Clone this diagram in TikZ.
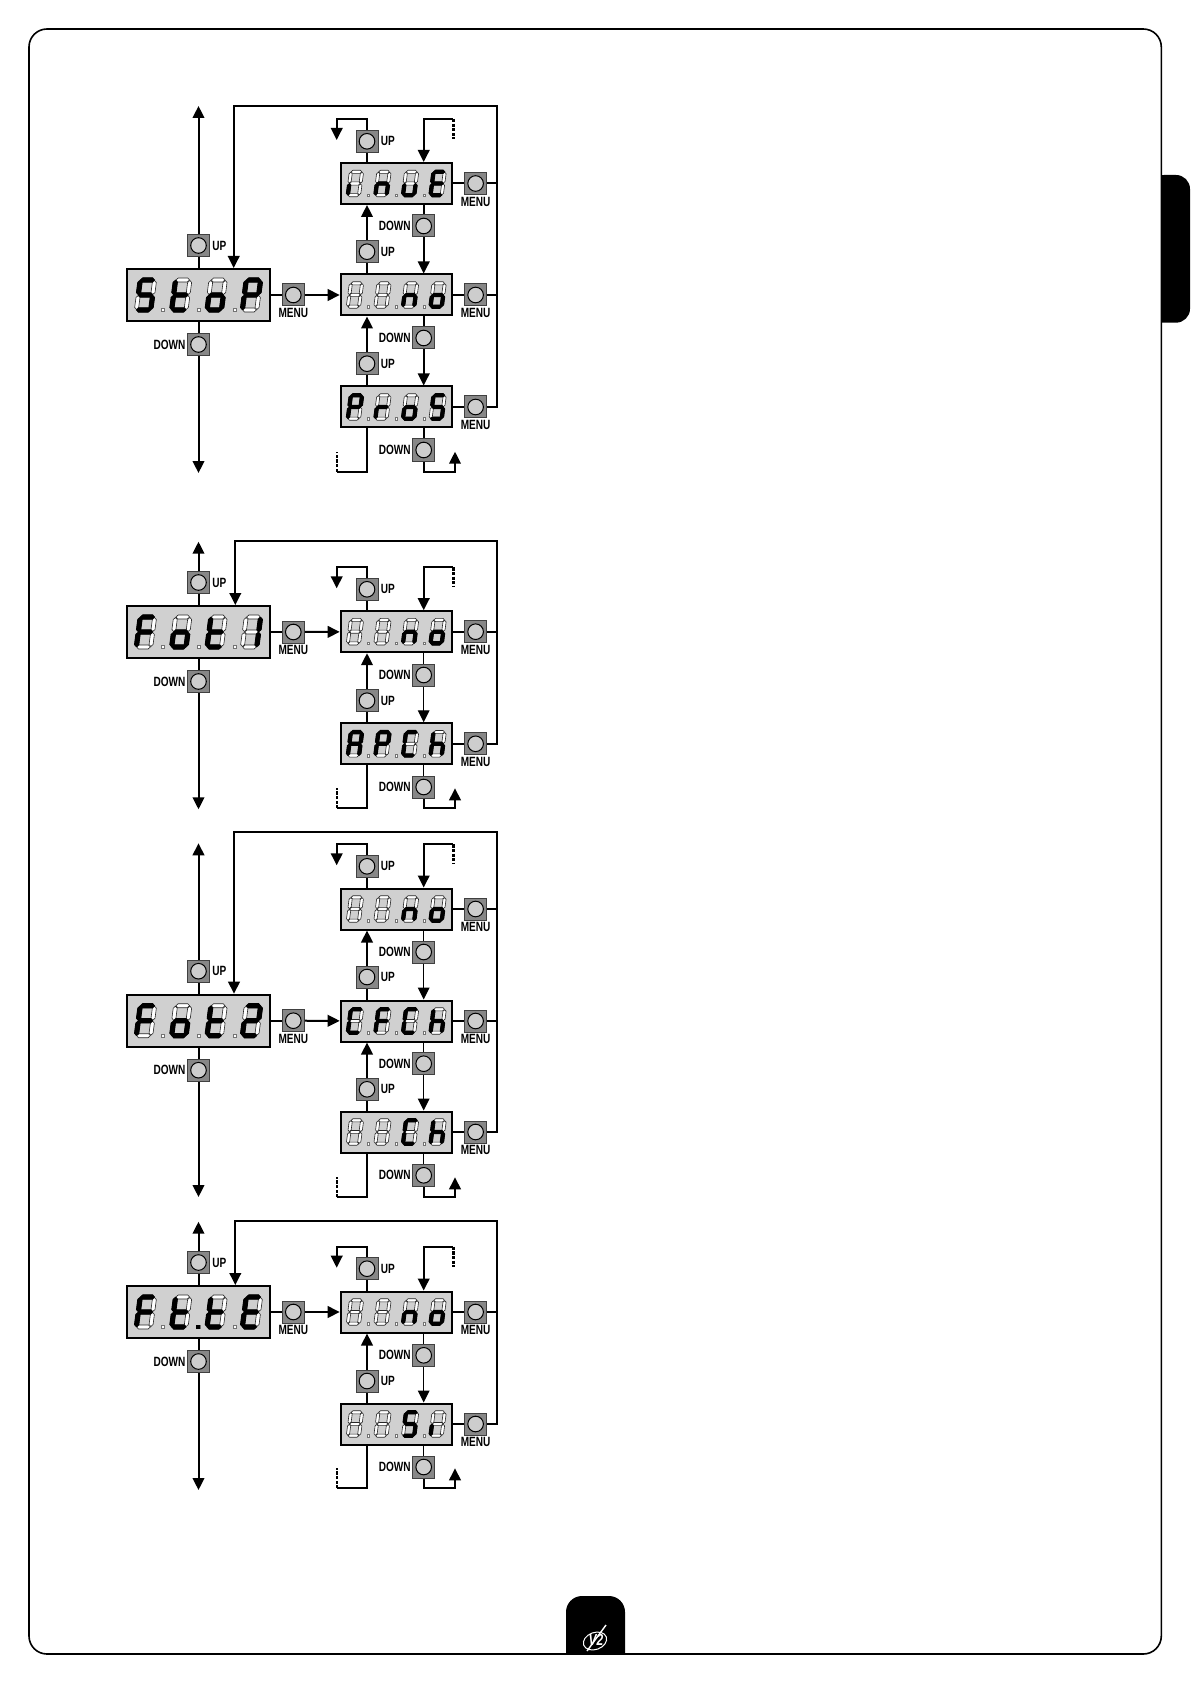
\documentclass[tikz,border=0pt]{standalone}
\usepackage{fontspec}
\newfontfamily\btnfont[FakeStretch=0.75]{Liberation Sans}
\usepackage{xcolor}
\usepackage{tikz}
\usetikzlibrary{arrows.meta,positioning}

\definecolor{lcdgray}{RGB}{208,208,208}
\definecolor{btngray}{RGB}{135,135,135}
\definecolor{capgray}{RGB}{205,205,205}

\tikzset{
  lcdbig/.style={draw, fill=lcdgray, line width=1pt, inner sep=0pt, minimum width=71.5pt, minimum height=26pt},
  lcdsmall/.style={draw, fill=lcdgray, line width=1pt, inner sep=0pt, minimum width=55.6pt, minimum height=20.5pt},
  btn/.style={draw=black!75, fill=btngray, line width=.5pt, inner sep=0pt, minimum size=11pt,
    path picture={\draw[black, fill=capgray, line width=.5pt] (path picture bounding box.center) circle (3.9pt);}},
  btnlabel/.style={inner sep=0pt, font=\btnfont\fontsize{6.7}{7}\selectfont\bfseries},
  segon/.style={fill=black, draw=black, line width=.6pt},
  segoff/.style={fill=white, draw=black!85, line width=.3pt},
  dotoff/.style={fill=white, draw=black!55, line width=.3pt},
  wire/.style={line width=1pt},
  downline/.style={line width=1pt},
  stub/.style={line width=1.2pt, dash pattern=on 1.6pt off .7pt}
}

% one segment of the display
\newcommand{\hseg}[2]{\filldraw[#1] (-6.8,#2) -- ++(2,-2) -- ++(9.6,0) -- ++(2,2) -- ++(-2,2) -- ++(-9.6,0) -- cycle;}
\newcommand{\vseg}[3]{\filldraw[#1] (#2,#3-7) -- ++(2,2) -- ++(0,10) -- ++(-2,2) -- ++(-2,-2) -- ++(0,-10) -- cycle;}
\def\sega#1{\hseg{#1}{-15}}
\def\segb#1{\vseg{#1}{7.2}{-7.5}}
\def\segc#1{\vseg{#1}{7.2}{7.5}}
\def\segd#1{\hseg{#1}{15}}
\def\sege#1{\vseg{#1}{-7.2}{7.5}}
\def\segf#1{\vseg{#1}{-7.2}{-7.5}}
\def\segg#1{\hseg{#1}{0}}
\def\segx#1{}

% characters
\def\lcdB{x}
\def\lcdS{a,f,g,c,d}
\def\lcdt{f,g,e,d}
\def\lcdo{g,e,c,d}
\def\lcdP{a,b,f,g,e}
\def\lcdi{e}
\def\lcdn{e,g,c}
\def\lcdu{e,d,c}
\def\lcdE{a,f,g,e,d}
\def\lcdr{e,g}
\def\lcdF{a,f,g,e}
\def\lcdA{a,b,c,e,f,g}
\def\lcdC{a,f,e,d}
\def\lcdh{f,e,g,c}
\def\lcdone{b,c}
\def\lcdtwo{a,b,g,e,d}

\newcommand{\lcdchar}[2]{
  \begin{scope}[shift={(#1,0)}, xslant=.13]
    \foreach \s in {a,b,c,d,e,f,g} {\csname seg\s\endcsname{segoff}}
    \foreach \s in #2 {\csname seg\s\endcsname{segon}}
  \end{scope}}
\newcommand{\lcdword}[6]{
  \begin{scope}[shift={(#1.center)}, scale=#2]
    \lcdchar{-53}{#3}
    \lcdchar{-17.7}{#4}
    \lcdchar{17.7}{#5}
    \lcdchar{53}{#6}
    \foreach \d in {-36,0,36} {\filldraw[dotoff] (\d-1.6,13.5) rectangle ++(3.2,3.2);}
  \end{scope}}

% left display with its three buttons
\newcommand{\mainstep}[4]{
  \node[lcdbig] (#1) at (198.5,#2) {};
  \node[btn, above=5.5pt of #1] (#1up) {};
  \node[btnlabel, right=1pt of #1up] (#1uplbl) {UP};
  \node[btn, below=5.5pt of #1] (#1down) {};
  \node[btnlabel, left=.6pt of #1down] (#1downlbl) {DOWN};
  \node[btn, right=5.4pt of #1] (#1menu) {};
  \node[btnlabel, below=.9pt of #1menu] (#1menulbl) {MENU};
  \coordinate (#1top) at (#1.center |- 0,#3);
  \coordinate (#1bot) at (#1.center |- 0,#4);
  \draw[wire] (#1) -- (#1up);
  \draw[wire, ->] (#1up) -- (#1top);
  \draw[wire] (#1) -- (#1down);
  \draw[wire, ->] (#1down) -- (#1bot);
  \draw[wire] (#1) -- (#1menu);
}
% right display with its menu button
\newcommand{\substep}[2]{
  \node[lcdsmall] (#1) at (396.3,#2) {};
  \node[btn, right=5.6pt of #1] (#1menu) {};
  \node[btnlabel, below=.9pt of #1menu] (#1menulbl) {MENU};
  \draw[wire] (#1) -- (#1menu);
}
\newcommand{\uplink}[4]{
  \node[btn] (#1) at (367,#2) {};
  \node[btnlabel, right=1pt of #1] (#1lbl) {UP};
  \draw[wire] (#3.north -| #1) -- (#1);
  \draw[wire, ->] (#1) -- (#4.south -| #1);
}
\newcommand{\downlink}[4]{
  \node[btn] (#1) at (423.7,#2) {};
  \node[btnlabel, left=.6pt of #1] (#1lbl) {DOWN};
  \draw[downline] (#3.south -| #1) -- (#1);
  \draw[downline, ->] (#1) -- (#4.north -| #1);
}
\newcommand{\chaintop}[4]{
  \node[btn] (#1) at (367,#3) {};
  \node[btnlabel, right=1pt of #1] (#1lbl) {UP};
  \coordinate (#1l) at (336.7,#4);
  \coordinate (#1e) at (336.7,#4+21);
  \coordinate (#1r) at (453.3,#4);
  \coordinate (#1s) at (453.3,#4+20);
  \coordinate (#1m) at (423.7,#4);
  \draw[wire] (#2.north -| #1) -- (#1);
  \draw[wire, ->] (#1) |- (#1l) -- (#1e);
  \draw[wire, ->] (#1r) -- (#1m) -- (#2.north -| #1m);
  \draw[stub] (#1r) -- (#1s);
}
\newcommand{\chainbot}[4]{
  \node[btn] (#1) at (423.7,#3) {};
  \node[btnlabel, left=.6pt of #1] (#1lbl) {DOWN};
  \coordinate (#1c) at (367,#4);
  \coordinate (#1l) at (336.7,#4);
  \coordinate (#1s) at (336.7,#4-20);
  \coordinate (#1r) at (455,#4);
  \coordinate (#1e) at (455,#4-20);
  \draw[wire] (#2.south -| #1c) -- (#1c) -- (#1l);
  \draw[stub] (#1l) -- (#1s);
  \draw[downline] (#2.south -| #1) -- (#1);
  \draw[wire, ->] (#1) |- (#1r) -- (#1e);
}
% line from the menu buttons back to the left display
\newcommand{\backline}[4]{
  \coordinate (#1fbr) at (497.3,#3);
  \coordinate (#1fbl) at (#2,#3);
  \draw[wire, ->] (#4menu) -| (#1fbr) -- (#1fbl) -- (#1.north -| #1fbl);
}
\newcommand{\backbranch}[1]{\draw[wire] (#1menu) -- (#1menu -| 497.3,0);}

\begin{document}
\begin{tikzpicture}[x=.5pt, y=-.5pt, >={Triangle[length=6pt,width=5.8pt]}]
  \useasboundingbox (0,0) rectangle (1191,1684);

  % page frame and tabs
  \fill[black, rounded corners=7pt] (1150,175) -- (1190,175) -- (1190,322.7) -- (1150,322.7) -- cycle;
  \filldraw[fill=white, draw=black, line width=.8pt, rounded corners=9pt] (29,29) rectangle (1161.3,1654);
  \fill[black] (566,1654) [rounded corners=8pt] -- (566,1596) -- (625,1596) [sharp corners] -- (625,1654) -- cycle;
  \draw[white, line width=.5pt, rotate around={20:(595,1641)}] (595,1641) ellipse (12 and 8.5);
  \draw[white, line width=.7pt] (587,1651) -- (606,1625);
  \node[inner sep=0pt, text=white, font=\btnfont\fontsize{8}{8}\selectfont\bfseries\itshape] (logo) at (596,1640) {V2};

  % Stop
  \mainstep{stop}{295}{106}{473}
  \lcdword{stop}{1}{\lcdS}{\lcdt}{\lcdo}{\lcdP}
  \substep{inue}{183.5}
  \lcdword{inue}{.78}{\lcdi}{\lcdn}{\lcdu}{\lcdE}
  \substep{stopno}{295}
  \lcdword{stopno}{.78}{\lcdB}{\lcdB}{\lcdn}{\lcdo}
  \substep{pros}{407}
  \lcdword{pros}{.78}{\lcdP}{\lcdr}{\lcdo}{\lcdS}
  \draw[wire, ->] (stopmenu) -- (stopno);
  \chaintop{stoptop}{inue}{141.3}{119}
  \uplink{stopuu}{251.7}{stopno}{inue}
  \uplink{stopud}{363.7}{pros}{stopno}
  \downlink{stopdu}{226}{inue}{stopno}
  \downlink{stopdd}{338}{stopno}{pros}
  \chainbot{stopbot}{pros}{450}{471.7}
  \backline{stop}{233.7}{106}{pros}
  \backbranch{inue}
  \backbranch{stopno}

  \tikzset{downline/.style={line width=.65pt}}

  % Fot1
  \mainstep{fota}{632}{541.7}{809.3}
  \lcdword{fota}{1}{\lcdF}{\lcdo}{\lcdt}{\lcdone}
  \substep{fotano}{631.7}
  \lcdword{fotano}{.78}{\lcdB}{\lcdB}{\lcdn}{\lcdo}
  \substep{apch}{743.8}
  \lcdword{apch}{.78}{\lcdA}{\lcdP}{\lcdC}{\lcdh}
  \draw[wire, ->] (fotamenu) -- (fotano);
  \chaintop{fotatop}{fotano}{589.3}{567.3}
  \uplink{fotau}{700.7}{apch}{fotano}
  \downlink{fotad}{675}{fotano}{apch}
  \chainbot{fotabot}{apch}{787}{808.3}
  \backline{fota}{235.3}{541}{apch}
  \backbranch{fotano}

  % Fot2
  \mainstep{fotb}{1020.7}{843.3}{1197}
  \lcdword{fotb}{1}{\lcdF}{\lcdo}{\lcdt}{\lcdtwo}
  \substep{fotbno}{909}
  \lcdword{fotbno}{.78}{\lcdB}{\lcdB}{\lcdn}{\lcdo}
  \substep{cfch}{1021}
  \lcdword{cfch}{.78}{\lcdC}{\lcdF}{\lcdC}{\lcdh}
  \substep{fotbch}{1132}
  \lcdword{fotbch}{.78}{\lcdB}{\lcdB}{\lcdC}{\lcdh}
  \draw[wire, ->] (fotbmenu) -- (cfch);
  \chaintop{fotbtop}{fotbno}{866.3}{844.3}
  \uplink{fotbuu}{977}{cfch}{fotbno}
  \uplink{fotbud}{1089.3}{fotbch}{cfch}
  \downlink{fotbdu}{952}{fotbno}{cfch}
  \downlink{fotbdd}{1063.7}{cfch}{fotbch}
  \chainbot{fotbbot}{fotbch}{1175.3}{1197.3}
  \backline{fotb}{234}{832.3}{fotbch}
  \backbranch{fotbno}
  \backbranch{cfch}

  % FtTE
  \mainstep{ftte}{1312}{1221.7}{1490}
  \lcdword{ftte}{1}{\lcdF}{\lcdt}{\lcdt}{\lcdE}
  \fill[black] (196,1324.5) rectangle ++(4,4);
  \substep{fttno}{1312}
  \lcdword{fttno}{.78}{\lcdB}{\lcdB}{\lcdn}{\lcdo}
  \substep{fttsi}{1424}
  \lcdword{fttsi}{.78}{\lcdB}{\lcdB}{\lcdS}{\lcdi}
  \draw[wire, ->] (fttemenu) -- (fttno);
  \chaintop{fttetop}{fttno}{1268.7}{1246.7}
  \uplink{ftteu}{1381}{fttsi}{fttno}
  \downlink{ftted}{1355.3}{fttno}{fttsi}
  \chainbot{fttebot}{fttsi}{1467}{1488.3}
  \backline{ftte}{235.3}{1221}{fttsi}
  \backbranch{fttno}
\end{tikzpicture}
\end{document}
